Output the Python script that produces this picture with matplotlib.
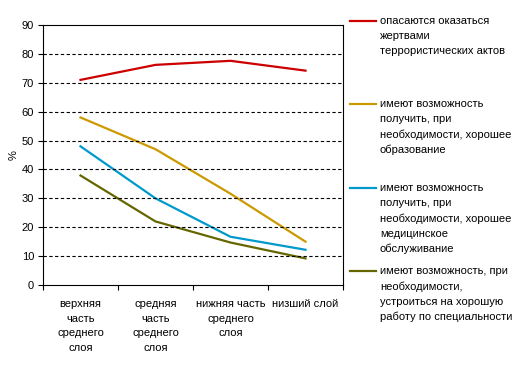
import matplotlib
matplotlib.use("Agg")
import matplotlib.pyplot as plt
from matplotlib.lines import Line2D

plt.rcParams['font.family'] = ['Liberation Sans', 'DejaVu Sans']
plt.rcParams['font.size'] = 8

# social groups (x axis)
categories = ["верхняя\nчасть\nсреднего\nслоя",
              "средняя\nчасть\nсреднего\nслоя",
              "нижняя часть\nсреднего\nслоя",
              "низший слой"]

series_labels = [
    "опасаются оказаться\nжертвами\nтеррористических актов",
    "имеют возможность\nполучить, при\nнеобходимости, хорошее\nобразование",
    "имеют возможность\nполучить, при\nнеобходимости, хорошее\nмедицинское\nобслуживание",
    "имеют возможность, при\nнеобходимости,\nустроиться на хорошую\nработу по специальности",
]
terror = [71, 76.2, 77.6, 74.2]
education = [58, 47, 31.6, 15]
medicine = [48, 30, 16.7, 12.2]
job = [37.9, 22, 14.7, 9.2]
colors = ["#CC0000", "#CC9900", "#0099CC", "#666600"]

fig = plt.figure(figsize=(5.25, 3.72), dpi=100)
ax = fig.add_axes([43/525, 1-285/372, 300/525, 260/372])

x = range(len(categories))
for vals, c in zip([terror, education, medicine, job], colors):
    ax.plot(x, vals, color=c, lw=1.6)

ax.set_xlim(-0.5, len(categories) - 0.5)
ax.set_ylim(0, 90)
ax.set_yticks(range(0, 91, 10))
ax.set_xticks([i - 0.5 for i in range(len(categories) + 1)])
ax.set_xticklabels([])
ax.set_xticks(list(x), minor=True)
ax.set_xticklabels(categories, minor=True, linespacing=1.6)
ax.tick_params(axis='x', which='minor', length=0, pad=10)
ax.tick_params(axis='both', which='major', direction='out', length=3.5, width=0.8)
ax.tick_params(axis='y', pad=3)
for sp in ax.spines.values():
    sp.set_linewidth(0.8)
for yv in range(10, 90, 10):
    ax.axhline(yv, color='black', lw=0.8, ls=(0, (3, 2.2)))
ax.set_ylabel('%', labelpad=2)

# legend drawn by hand to the right of the plot
legend_y = [21, 104, 188, 271]
for lab, c, yy in zip(series_labels, colors, legend_y):
    fy = 1 - yy/372
    fig.add_artist(Line2D([350/525, 376/525], [fy, fy], color=c, lw=1.6,
                          transform=fig.transFigure))
    fig.text(380/525, fy + 5/372, lab, va='top', ha='left', linespacing=1.62)

fig.savefig('out.png', dpi=100)
